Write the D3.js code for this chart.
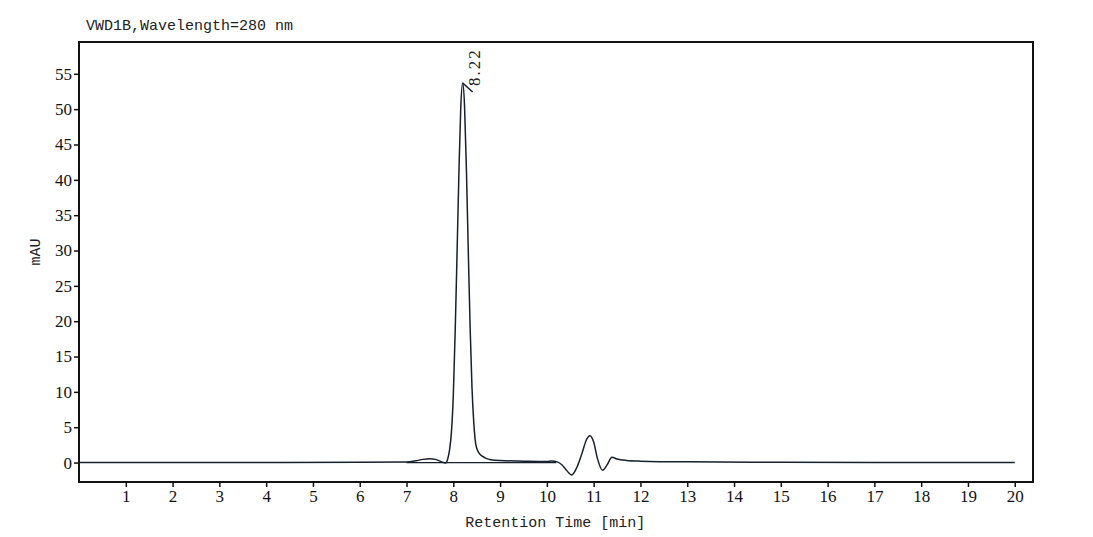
<!DOCTYPE html>
<html>
<head>
<meta charset="utf-8">
<script src="https://cdn.jsdelivr.net/npm/d3@7"></script>
<style>
  body { margin: 0; background: #fff; }
  svg { display: block; }
</style>
</head>
<body>
<div id="chart"></div>
<script>
// chromatogram points
const times = [0, 3, 6, 7.0, 7.2, 7.35, 7.5, 7.62, 7.75, 7.84, 7.88, 7.92, 7.96, 8.0, 8.04, 8.08, 8.12, 8.16, 8.2,
  8.24, 8.28, 8.32, 8.36, 8.4, 8.44, 8.48, 8.52, 8.56, 8.62, 8.7, 8.8, 9.0, 9.5, 10.0, 10.1, 10.22, 10.32,
  10.42, 10.53, 10.64, 10.75, 10.85, 10.92, 11.0, 11.08, 11.19, 11.29, 11.39, 11.5, 11.7, 12.0, 13, 15, 17, 20];
const signal = [0, 0, 0.03, 0.08, 0.25, 0.45, 0.55, 0.45, 0.1, -0.05, 0.5, 1.8, 4.3, 9.5, 18.5, 29.5, 41, 50.3, 53.7,
  50.5, 41.5, 30, 19, 10.5, 5.4, 2.6, 1.7, 1.25, 0.9, 0.6, 0.4, 0.28, 0.2, 0.15, 0.22, 0.1, -0.3,
  -1.1, -1.75, -0.7, 1.3, 3.3, 3.8, 2.9, 0.6, -1.1, -0.3, 0.75, 0.5, 0.3, 0.2, 0.1, 0.05, 0.02, 0];
const baselineT = [7.0, 10.2];
const baselineV = [0, 0];
const peakTime = 8.2, peakValue = 53.7, peakLabel = "8.22";
const xTicks = d3.range(1, 21);
const yTicks = d3.range(0, 60, 5);

const W = 1093, H = 537;
const margin = {left: 79, top: 42, right: 60, bottom: 55};
const iw = W - margin.left - margin.right;
const ih = H - margin.top - margin.bottom;

const x = d3.scaleLinear().domain([0, 20.39]).range([0, iw]);
const y = d3.scaleLinear().domain([-2.75, 59.5]).range([ih, 0]);

const svg = d3.select("#chart").append("svg").attr("width", W).attr("height", H);
const g = svg.append("g").attr("transform", `translate(${margin.left},${margin.top})`);

const serif = "'Liberation Serif', 'Times New Roman', serif";
const mono = "'Liberation Mono', 'Courier New', monospace";

// axes
const xAxis = g.append("g").attr("transform", `translate(0,${ih})`)
  .call(d3.axisBottom(x).tickValues(xTicks).tickSize(5).tickPadding(3).tickFormat(d3.format("d")));
const yAxis = g.append("g")
  .call(d3.axisLeft(y).tickValues(yTicks).tickSize(5).tickPadding(2).tickFormat(d3.format("d")));
[xAxis, yAxis].forEach(a => {
  a.attr("font-family", serif).attr("font-size", 17);
  a.select(".domain").remove();
  a.selectAll(".tick line").attr("stroke", "#111").attr("stroke-width", 1.5);
  a.selectAll(".tick text").attr("fill", "#111");
});

// trace
const pts = times.map((t, i) => [t, signal[i]]);
const line = d3.line().x(d => x(d[0])).y(d => y(d[1])).curve(d3.curveMonotoneX);
g.append("path").datum(pts).attr("d", line)
  .attr("fill", "none").attr("stroke", "#17202e").attr("stroke-width", 1.5);

g.append("path").datum(baselineT.map((t, i) => [t, baselineV[i]]))
  .attr("d", d3.line().x(d => x(d[0])).y(d => y(d[1])))
  .attr("fill", "none").attr("stroke", "#17202e").attr("stroke-width", 1.2);

// peak marker + label
const px = x(peakTime), py = y(peakValue);
g.append("line").attr("x1", px).attr("y1", py).attr("x2", px + 10).attr("y2", py + 9)
  .attr("stroke", "#17202e").attr("stroke-width", 1.6);
g.append("text")
  .attr("transform", `translate(${px + 17},${py + 3}) rotate(-90)`)
  .attr("font-family", serif).attr("font-size", 17).style("letter-spacing", "2px")
  .attr("fill", "#222").text(peakLabel);

// frame
g.append("rect").attr("width", iw).attr("height", ih)
  .attr("fill", "none").attr("stroke", "#111").attr("stroke-width", 2);

// titles
svg.append("text").attr("x", 86).attr("y", 30)
  .attr("font-family", mono).attr("font-size", 15).attr("fill", "#222")
  .text("VWD1B,Wavelength=280 nm");
svg.append("text").attr("x", margin.left + x(10.18)).attr("y", 527).attr("text-anchor", "middle")
  .attr("font-family", mono).attr("font-size", 15).attr("fill", "#222")
  .text("Retention Time [min]");
svg.append("text").attr("transform", `translate(40,${margin.top + y(29.8)}) rotate(-90)`)
  .attr("text-anchor", "middle")
  .attr("font-family", mono).attr("font-size", 15).attr("fill", "#222")
  .text("mAU");
</script>
</body>
</html>
